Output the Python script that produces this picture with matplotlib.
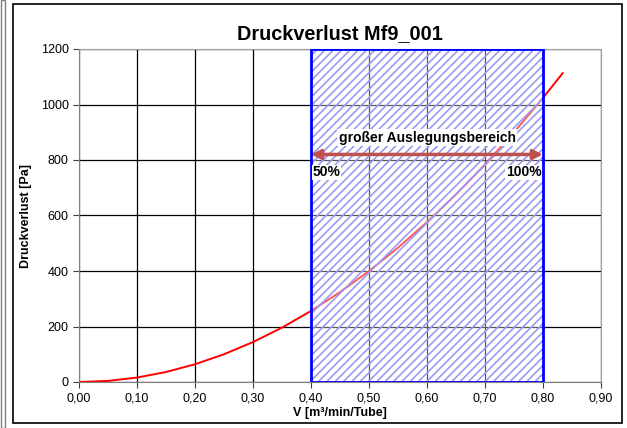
import matplotlib
matplotlib.use("Agg")
from matplotlib import pyplot as plt
from matplotlib.patches import Rectangle
from matplotlib.ticker import FuncFormatter

v = [0.00, 0.05, 0.10, 0.15, 0.20, 0.25, 0.30, 0.35, 0.40, 0.45, 0.50,
     0.55, 0.60, 0.65, 0.70, 0.75, 0.80, 0.834]
dp = [0, 4, 16, 36, 64, 100, 144, 196, 256, 324, 400,
      484, 576, 676, 784, 900, 1024, 1113]
range_lo, range_hi = 0.40, 0.80
arrow_y = 820
range_label = "großer Auslegungsbereich"
lo_label, hi_label = "50%", "100%"

plt.rcParams['font.family'] = ['Liberation Sans', 'DejaVu Sans']
plt.rcParams['hatch.linewidth'] = 1.2

fig = plt.figure(figsize=(6.27, 4.28), dpi=100)
ax = fig.add_axes([79/627, 46/428, 522/627, 333/428])

# outer frame of the chart
fig.patches.append(Rectangle((13/627, 5/428), 609/627, 419/428, transform=fig.transFigure,
                             fill=False, edgecolor="black", linewidth=1.2))
fig.patches.append(Rectangle((0.5/627, 0), 4/627, 1, transform=fig.transFigure,
                             fill=False, edgecolor="#808080", linewidth=1.0))

ax.plot(v, dp, color="red", linewidth=1.4, zorder=2)

ax.add_patch(Rectangle((range_lo, 0), range_hi - range_lo, 1200, facecolor=(1, 1, 1, 0.35),
                       edgecolor="none", zorder=3))
ax.add_patch(Rectangle((range_lo, 0), range_hi - range_lo, 1200, fill=False, hatch="////",
                       edgecolor="#9a9af2", linewidth=0, zorder=3))
ax.add_patch(Rectangle((range_lo, 0), range_hi - range_lo, 1200, fill=False,
                       edgecolor="#0000ff", linewidth=2.0, zorder=4))

ax.annotate("", xy=(range_hi, arrow_y), xytext=(range_lo, arrow_y),
            arrowprops=dict(arrowstyle="<|-|>", color="#c0504d", lw=2.5,
                            mutation_scale=14, shrinkA=0, shrinkB=0), zorder=5)
ax.text((range_lo + range_hi) / 2, 880, range_label, ha="center", va="center",
        fontsize=10, fontweight="bold", zorder=6,
        bbox=dict(facecolor="white", edgecolor="none", pad=1))
ax.text(range_lo + 0.003, 755, lo_label, ha="left", va="center", fontsize=10,
        fontweight="bold", zorder=6, bbox=dict(facecolor="white", edgecolor="none", pad=0.5))
ax.text(range_hi - 0.003, 755, hi_label, ha="right", va="center", fontsize=10,
        fontweight="bold", zorder=6, bbox=dict(facecolor="white", edgecolor="none", pad=0.5))

ax.set_xlim(0, 0.9)
ax.set_ylim(0, 1200)
ax.set_xticks([i / 10 for i in range(10)])
ax.set_yticks(range(0, 1201, 200))
ax.xaxis.set_major_formatter(FuncFormatter(lambda x, p: ("%.2f" % x).replace(".", ",")))
ax.grid(True, color="black", linewidth=0.9)
ax.set_axisbelow(True)
ax.tick_params(labelsize=9, direction="out", length=4, color="#404040")
for s in ["top", "right"]:
    ax.spines[s].set_color("#a0a0a0")
for s in ["left", "bottom"]:
    ax.spines[s].set_color("#808080")

ax.set_title("Druckverlust Mf9_001", fontsize=14.3, fontweight="bold", pad=7)
ax.set_xlabel("V [m³/min/Tube]", fontsize=9, fontweight="bold", labelpad=2)
ax.set_ylabel("Druckverlust [Pa]", fontsize=9, fontweight="bold", labelpad=6)

plt.savefig("out.png", dpi=100)
